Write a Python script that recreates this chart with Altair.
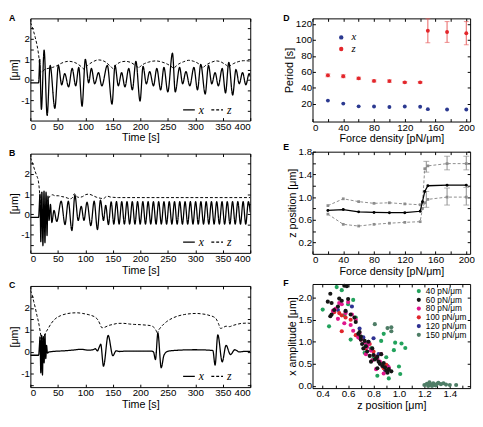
import altair as alt
import pandas as pd

FONT = "Liberation Sans"
SERIF = "Liberation Serif"

# ---------------- Panel A (time series) ----------------
A_x_t = [0, 15, 16, 17, 20, 25, 30.5, 36, 44.5, 51, 57, 62.5, 69.5, 76, 82.5, 88, 94, 100, 106, 111,
         117, 124, 130, 140, 148.5, 154, 160, 166, 172, 179, 185.5, 192, 199.5, 205, 211, 217, 224, 230, 237, 243,
         250, 258.5, 263.5, 271.5, 277, 283, 290, 297.5, 304, 310, 318, 324, 330, 336, 342, 349, 355, 361, 368, 374,
         380, 386, 392, 398, 400]
A_x_v = [-0.15, -0.15, 0.35, 1.0, -1.45, 1.45, -1.75, 0.7, -1.4, 0.7, -0.25, 0.3, -0.35, 0.55, -0.3, 0.6, -1.3, 1.0, -0.15, 0.55,
         -0.2, 0.35, -0.3, 0.7, -1.2, 0.7, -0.3, 0.35, -0.35, 0.55, -0.5, 0.9, -1.05, 0.65, -0.2, 0.4, -0.3, 0.55, -0.5, 0.6,
         -0.6, 1.3, -0.6, 0.6, -0.2, 0.4, -0.3, 0.6, -0.5, 0.75, -0.7, 0.7, -0.2, 0.35, -0.3, 0.55, -0.65, 0.85, -0.75, 0.5,
         -0.2, 0.35, -0.25, 0.3, 0.15]
A_z_t = [0, 3, 6, 9, 12, 14, 15.5, 16.5, 17.5, 18, 22, 23, 26, 32, 40, 48, 56, 64, 70, 76,
         84, 92, 95.5, 97, 98.5, 104, 112, 124, 136, 143, 148, 149.5, 151, 157, 164, 173, 182, 189, 195.5, 197,
         198.5, 205, 215, 228, 241, 250, 258.5, 260.5, 262.5, 270, 279, 288, 297, 305, 312.5, 314, 315.5, 322, 330, 338,
         346, 353, 359, 360.5, 362, 369, 378, 388, 396, 400]
A_z_v = [2.8, 2.6, 2.35, 2.05, 1.7, 1.4, 1.1, 0.8, 0.5, 0.38, 0.38, 0.42, 0.5, 0.55, 0.6, 0.68, 0.8, 0.88, 0.9, 0.88,
         0.8, 0.65, 0.57, 0.52, 0.56, 0.7, 0.85, 0.97, 0.88, 0.72, 0.6, 0.55, 0.6, 0.75, 0.86, 0.9, 0.85, 0.74, 0.61, 0.56,
         0.61, 0.75, 0.86, 0.92, 0.85, 0.75, 0.6, 0.55, 0.6, 0.77, 0.88, 0.95, 0.9, 0.8, 0.62, 0.57, 0.62, 0.76, 0.86, 0.92,
         0.88, 0.77, 0.65, 0.6, 0.65, 0.78, 0.88, 0.93, 0.92, 0.9]

# ---------------- Panel B ----------------
B_x_t = [0, 15, 16, 17.5, 19, 21, 22.8, 24.8, 26.5, 28.5, 30.3, 32, 34, 36.5, 39, 43, 48, 56, 63, 69,
         75.5, 81, 87, 92.5, 97.5, 103, 110, 116, 122, 127.5, 133, 137, 142,
         147.0, 151.8, 156.6, 161.4, 166.2, 171.0, 175.8, 180.6, 185.4, 190.2, 195.0, 199.8, 204.6, 209.4,
         214.2, 219.0, 223.8, 228.6, 233.4, 238.2, 243.0, 247.8, 252.6, 257.4, 262.2, 267.0, 271.8, 276.6,
         281.4, 286.2, 291.0, 295.8, 300.6, 305.4, 310.2, 315.0, 319.8, 324.6, 329.4, 334.2, 339.0, 343.8,
         348.6, 353.4, 358.2, 363.0, 367.8, 372.6, 377.4, 382.2, 387.0, 391.8, 396.6, 400]
B_x_v = [-0.15, -0.15, 0.3, 1.0, -1.35, 1.1, -1.55, 1.15, -1.4, 1.1, -1.05, 0.9, -0.3, 0.5, -0.4, 0.2, -0.35, 0.65, -0.5, 0.65,
         -0.8, 0.95, -0.3, 0.4, -0.3, 0.6, -0.55, 0.65, -0.75, 0.7, -0.3, 0.45, -0.5,
         0.62, -0.48, 0.63, -0.48, 0.63, -0.48, 0.63, -0.48, 0.63, -0.48, 0.63, -0.48, 0.63, -0.48,
         0.63, -0.48, 0.63, -0.48, 0.63, -0.48, 0.63, -0.48, 0.63, -0.48, 0.63, -0.48, 0.63, -0.48,
         0.63, -0.48, 0.63, -0.48, 0.63, -0.48, 0.63, -0.48, 0.63, -0.48, 0.63, -0.48, 0.63, -0.48,
         0.63, -0.48, 0.63, -0.48, 0.63, -0.48, 0.63, -0.48, 0.63, -0.48, 0.63, 0.1]
B_z_t = [0, 3, 6, 9, 12, 14, 15.5, 17, 18.5, 20, 23, 26, 28, 31, 35, 40, 45, 51, 57, 63,
         68, 73, 77, 80, 83, 88, 95, 101, 106, 112, 120, 127, 133, 137, 140, 145, 152, 160, 200, 300, 400]
B_z_v = [2.8, 2.6, 2.35, 2.1, 1.88, 1.72, 1.45, 1.0, 0.5, 0.35, 0.38, 0.42, 0.52, 0.7, 0.88, 0.97, 0.92, 0.92, 0.88, 0.85,
         0.8, 0.77, 0.85, 1.02, 0.92, 0.84, 0.88, 0.98, 1.0, 0.95, 0.85, 0.8, 0.78, 0.86, 0.9, 0.86, 0.84, 0.83, 0.83, 0.83, 0.83]

# ---------------- Panel C ----------------
C_x_t = [0, 15, 16.5, 17.5, 19, 20.5, 22, 23.5, 25, 26.5, 28, 29.5, 31, 34, 45, 60, 75, 92, 105, 114,
         118, 122, 125, 128, 133, 141.5, 150, 156, 162, 175, 200, 220, 224, 227.5, 232, 238, 243, 250, 270, 300,
         325, 332, 336, 341, 349, 356, 364, 372, 380, 390, 400]
C_x_v = [-0.15, -0.15, 0.3, 0.68, -0.95, 0.75, -1.05, 0.7, -0.5, 0.8, -0.3, 0.3, -0.05, 0.0, 0.03, 0.05, 0.08, 0.12, 0.08, 0.1,
         0.15, 0.05, 0.2, 0.35, -0.65, 0.75, -0.17, 0.05, 0.02, 0.04, 0.04, 0.04, 0.0, -0.35, 0.85, -0.72, -0.15, 0.03, 0.08, 0.1,
         0.08, 0.06, -0.6, 0.78, -0.45, 0.3, -0.12, 0.1, 0.0, 0.03, 0.02]
C_z_t = [0, 3, 6, 9, 12, 14, 16, 18, 20, 22, 25, 28, 32, 38, 45, 55, 65, 75, 85, 95,
         105, 112, 118, 123, 127, 130, 135, 142, 150, 160, 170, 180, 190, 200, 210, 218, 223, 227, 229.5, 231,
         232.5, 235, 240, 248, 258, 268, 280, 292, 302, 312, 320, 327, 333, 338, 342, 346, 350, 356, 362, 368,
         375, 385, 395, 400]
C_z_v = [2.8, 2.6, 2.3, 2.0, 1.65, 1.45, 1.2, 0.9, 0.65, 0.6, 0.7, 0.88, 1.05, 1.3, 1.5, 1.65, 1.73, 1.77, 1.78, 1.75,
         1.7, 1.65, 1.58, 1.45, 1.25, 1.1, 1.12, 1.2, 1.25, 1.3, 1.3, 1.27, 1.25, 1.24, 1.22, 1.2, 1.15, 1.05, 0.92, 0.8,
         0.95, 1.05, 1.2, 1.38, 1.53, 1.63, 1.7, 1.74, 1.75, 1.73, 1.7, 1.65, 1.6, 1.5, 1.3, 1.07, 1.1, 1.17, 1.15, 1.2,
         1.25, 1.3, 1.31, 1.3]

T_TICKS = [0, 50, 100, 150, 200, 250, 300, 350, 400]
UM_TICKS = [-1.5, -1, -0.5, 0, 0.5, 1, 1.5, 2, 2.5]

# ---------------- Panel D ----------------
D_F = [20, 40, 60, 80, 100, 120, 140, 150, 175, 200]
D_x = [24.2, 20.4, 17.0, 16.8, 16.2, 16.8, 16.5, 13.5, 13.0, 13.0]
D_z = [55.8, 54.6, 52.0, 48.8, 48.6, 47.0, 47.0, 111.5, 110.0, 108.5]
D_z_err = [1.8, 1.8, 1.5, 1.2, 1.5, 1.0, 1.0, 15.0, 13.0, 14.5]

# ---------------- Panel E ----------------
E_F = [20, 40, 60, 80, 100, 120, 140, 143, 146, 150, 175, 200]
E_mean = [0.765, 0.78, 0.74, 0.73, 0.725, 0.725, 0.75, 0.92, 1.1, 1.2, 1.21, 1.21]
E_hi = [0.85, 0.97, 0.92, 0.89, 0.9, 0.88, 0.865, 0.9, 1.5, 1.55, 1.59, 1.59]
E_lo = [0.70, 0.52, 0.49, 0.52, 0.54, 0.555, 0.567, 0.8, 0.9, 0.96, 1.0, 1.0]
E_err_F = [148, 175, 200, 148, 175, 200]
E_err_lo = [1.44, 1.48, 1.48, 0.82, 0.86, 0.86]
E_err_hi = [1.63, 1.72, 1.72, 1.10, 1.16, 1.17]

F_TICKS = [0, 20, 40, 60, 80, 100, 120, 140, 160, 180, 200]

# ---------------- Panel F ----------------
F_LABELS = ["40 pN/μm", "60 pN/μm", "80 pN/μm", "100 pN/μm", "120 pN/μm", "150 pN/μm"]
F_COLORS = ["#22a25c", "#151515", "#e0168c", "#e0262b", "#2e3192", "#4e7d66"]
F40_x = [0.51, 0.55, 0.40, 0.45, 0.60, 0.66, 0.62, 0.70, 0.74, 0.78, 0.86, 0.88, 0.97, 1.02, 1.05, 0.96, 0.90, 1.00, 1.01, 0.83,
         0.92, 0.88, 0.73, 0.80, 0.64, 0.57]
F40_y = [2.24, 2.17, 1.73, 1.35, 1.85, 1.55, 1.05, 1.12, 0.95, 0.85, 1.02, 1.18, 0.98, 0.96, 0.86, 0.81, 0.65, 0.44, 0.27, 0.23,
         0.17, 0.45, 0.75, 0.62, 1.95, 1.60]
F60_x = [0.57, 0.59, 0.46, 0.44, 0.47, 0.53, 0.55, 0.60, 0.49, 0.47, 0.46, 0.62, 0.66, 0.68, 0.70, 0.70, 0.71, 0.74, 0.76, 0.79,
         0.80, 0.82, 0.84, 0.85, 0.87, 0.89, 0.90, 0.92, 0.94, 0.86, 0.81, 0.77, 0.72, 0.65, 0.58, 0.52, 0.78, 0.83, 0.88,
         0.69, 0.73, 0.75, 0.83, 0.91]
F60_y = [2.27, 2.26, 2.09, 1.91, 1.88, 1.98, 1.93, 1.97, 1.72, 1.62, 1.58, 1.62, 1.45, 1.18, 1.12, 1.05, 0.95, 0.90, 1.00, 0.85,
         0.70, 0.62, 0.55, 0.50, 0.45, 0.42, 0.35, 0.38, 0.33, 0.72, 0.60, 0.68, 0.85, 1.55, 1.70, 1.80, 0.55, 0.40, 0.52,
         1.22, 1.02, 0.78, 0.66, 0.30]
F80_x = [0.48, 0.50, 0.53, 0.55, 0.60, 0.58, 0.63, 0.66, 0.52, 0.57, 0.62, 0.69, 0.70, 0.73, 0.75, 0.78, 0.80, 0.83, 0.85, 0.87,
         0.90, 0.88, 0.82, 0.79, 0.74, 0.68, 0.64, 0.76, 0.86, 0.92]
F80_y = [1.70, 1.75, 1.88, 1.85, 1.90, 1.65, 1.62, 1.50, 1.52, 1.42, 1.38, 1.20, 1.05, 0.98, 0.88, 0.80, 0.70, 0.62, 0.55, 0.45,
         0.35, 0.28, 0.38, 0.58, 0.72, 1.10, 1.25, 0.95, 0.72, 0.42]
F100_x = [0.49, 0.53, 0.55, 0.58, 0.55, 0.62, 0.70, 0.74, 0.77, 0.82, 0.85, 0.88, 0.90, 0.80, 0.66]
F100_y = [1.67, 1.65, 1.60, 1.55, 1.24, 1.50, 1.05, 0.85, 0.95, 0.66, 0.52, 0.40, 0.48, 0.78, 1.15]
F120_x = [0.52, 0.58, 0.63, 0.72, 0.76, 0.80, 0.84, 0.89, 0.91, 0.69]
F120_y = [1.72, 1.68, 1.80, 1.10, 1.00, 1.08, 0.72, 0.36, 0.45, 1.30]
F150_x = [0.81, 0.91, 0.94, 0.94, 1.20, 1.22, 1.24, 1.25, 1.27, 1.28, 1.30, 1.31, 1.33, 1.35, 1.37, 1.40, 1.45, 1.23, 1.26, 1.29]
F150_y = [1.40, 1.31, 1.33, 1.24, 0.02, 0.05, 0.08, 0.03, 0.06, 0.02, 0.05, 0.07, 0.04, 0.06, 0.03, 0.02, 0.02, 0.00, 0.00, 0.01]

BLUE = "#2b3990"
RED = "#e3262b"
RED_L = "#e86060"
GRAY = "#8c8c8c"

W1 = 226
W2 = 162
HA, HB, HC = 105, 102, 104
HD, HE, HF = 106, 105, 107


def ax(orient=None, **kw):
    base = dict(offset=-3, tickSize=3, domain=False, grid=False, labelPadding=1,
                tickColor="black", labelColor="black", titleColor="black")
    base.update(kw)
    if orient:
        base["orient"] = orient
    return alt.Axis(**base)


def letter(t, dx=-22):
    return alt.TitleParams(t, anchor="start", frame="group", dx=dx, offset=-5,
                           fontSize=9, fontWeight="bold", font=FONT, color="black")


def frame(df, xf, yf, xs, ys, xv, yv):
    return alt.Chart(df).mark_point(opacity=0, size=1).encode(
        x=alt.X(xf, type="quantitative", scale=xs, axis=ax("top", values=xv, labels=False, title=None)),
        y=alt.Y(yf, type="quantitative", scale=ys, axis=ax("right", values=yv, labels=False, title=None)),
    )


def boxed(*layers):
    return alt.layer(*layers).resolve_axis(x="independent", y="independent")


UM_EXPR = "datum.value % 1 == 0 ? (datum.value < 0 ? '-' + abs(datum.value) : '' + datum.value) : ''"


def time_panel(name, xt, xv, zt, zv, ydom, h):
    df = pd.concat([pd.DataFrame({"t": xt, "v": xv, "s": "x"}),
                    pd.DataFrame({"t": zt, "v": zv, "s": "z"})], ignore_index=True)
    xs = alt.Scale(domain=[0, 400], nice=False, zero=False)
    ys = alt.Scale(domain=ydom, nice=False, zero=False)
    yv = [v for v in UM_TICKS if ydom[0] <= v <= ydom[1]]
    lines = alt.Chart(df).mark_line(interpolate="monotone", color="black", clip=True).encode(
        x=alt.X("t:Q", scale=xs, axis=ax(values=T_TICKS, title="Time [s]", titlePadding=1)),
        y=alt.Y("v:Q", scale=ys, axis=ax(values=yv, title="[μm]", labelExpr=UM_EXPR, titlePadding=1)),
        strokeDash=alt.StrokeDash("s:N", scale=alt.Scale(domain=["x", "z"], range=[[1, 0], [3, 2]]),
                                  legend=alt.Legend(title=None, orient="none", legendX=156, legendY=h - 18,
                                                    direction="horizontal", symbolType="stroke", symbolSize=144,
                                                    symbolStrokeWidth=1.2, symbolStrokeColor="black",
                                                    labelFont=SERIF, labelFontStyle="italic", labelFontSize=12,
                                                    labelColor="black", labelOffset=3, columnPadding=4, padding=0)),
        strokeWidth=alt.StrokeWidth("s:N", scale=alt.Scale(domain=["x", "z"], range=[1.3, 1.0]), legend=None),
    )
    return boxed(lines, frame(df, "t", "v", xs, ys, T_TICKS, yv)).properties(
        width=W1, height=h, title=letter(name))


A = time_panel("A", A_x_t, A_x_v, A_z_t, A_z_v, [-2, 3], HA)
B = time_panel("B", B_x_t, B_x_v, B_z_t, B_z_v, [-1.9, 3], HB)
C = time_panel("C", C_x_t, C_x_v, C_z_t, C_z_v, [-1.6, 3], HC)

FORCE_EXPR = "datum.value % 40 == 0 ? datum.label : ''"
FORCE_TITLE = "Force density [pN/μm]"

# ---- D ----
dpts = pd.concat([pd.DataFrame({"F": D_F, "val": D_x, "s": "x"}),
                  pd.DataFrame({"F": D_F, "val": D_z, "s": "z"})], ignore_index=True)
derr = pd.DataFrame({"F": D_F, "lo": [a - b for a, b in zip(D_z, D_z_err)],
                     "hi": [a + b for a, b in zip(D_z, D_z_err)]})
xsD = alt.Scale(domain=[0, 205], nice=False, zero=False)
ysD = alt.Scale(domain=[-2, 127], nice=False, zero=False)
D_YT = [20, 40, 60, 80, 100, 120]
xD = ax(values=F_TICKS, labelExpr=FORCE_EXPR, title=FORCE_TITLE, titlePadding=1)
yD = ax(values=D_YT, title="Period [s]", titlePadding=1)
d_err = alt.Chart(derr).mark_errorbar(ticks={"size": 5, "color": RED_L}, color=RED_L, thickness=1).encode(
    x=alt.X("F:Q", scale=xsD, axis=xD), y=alt.Y("lo:Q", scale=ysD, axis=yD), y2="hi:Q")
d_pts = alt.Chart(dpts).mark_circle(size=16, opacity=1).encode(
    x=alt.X("F:Q", scale=xsD, axis=xD), y=alt.Y("val:Q", scale=ysD, axis=yD),
    color=alt.Color("s:N", scale=alt.Scale(domain=["x", "z"], range=[BLUE, RED]),
                    legend=alt.Legend(title=None, orient="none", legendX=24, legendY=14, symbolType="circle",
                                      symbolSize=20, labelFont=SERIF, labelFontStyle="italic", labelFontSize=11,
                                      labelColor="black", labelOffset=5, rowPadding=0, padding=0)))
D = boxed(alt.layer(d_err, d_pts), frame(dpts, "F", "val", xsD, ysD, F_TICKS, D_YT)).properties(
    width=W2, height=HD, title=letter("D", -30))

# ---- E ----
emean = pd.DataFrame({"F": E_F, "val": E_mean})
eband = pd.concat([pd.DataFrame({"F": E_F, "val": E_hi, "s": "hi"}),
                   pd.DataFrame({"F": E_F, "val": E_lo, "s": "lo"})], ignore_index=True)
eerr = pd.DataFrame({"F": E_err_F, "lo": E_err_lo, "hi": E_err_hi})
ysE = alt.Scale(domain=[0, 1.8], nice=False, zero=False)
E_YT = [0.2, 0.4, 0.6, 0.8, 1.0, 1.2, 1.4, 1.6, 1.8]
xE = ax(values=F_TICKS, labelExpr=FORCE_EXPR, title=FORCE_TITLE, titlePadding=1)
yE = ax(values=E_YT, title="z position [μm]", titlePadding=1,
        labelExpr="(round(datum.value*10) % 4 == 2) ? format(datum.value, '.1f') : ''")
e_err = alt.Chart(eerr).mark_errorbar(ticks={"size": 6, "color": GRAY}, color=GRAY, thickness=1).encode(
    x=alt.X("F:Q", scale=xsD, axis=xE), y=alt.Y("lo:Q", scale=ysE, axis=yE), y2="hi:Q")
e_gray = alt.Chart(eband).mark_line(color=GRAY, strokeWidth=1, strokeDash=[3, 2],
                                    point=alt.OverlayMarkDef(shape="square", filled=True, size=8, color=GRAY)).encode(
    x=alt.X("F:Q", scale=xsD, axis=xE), y=alt.Y("val:Q", scale=ysE, axis=yE), detail="s:N")
e_mean = alt.Chart(emean).mark_line(color="black", strokeWidth=1.3,
                                    point=alt.OverlayMarkDef(filled=True, size=9, color="black")).encode(
    x=alt.X("F:Q", scale=xsD, axis=xE), y=alt.Y("val:Q", scale=ysE, axis=yE))
E = boxed(alt.layer(e_err, e_gray, e_mean), frame(emean, "F", "val", xsD, ysE, F_TICKS, E_YT)).properties(
    width=W2, height=HE, title=letter("E", -30))

# ---- F ----
fdf = pd.concat([
    pd.DataFrame({"zp": F40_x, "amp": F40_y, "g": F_LABELS[0]}),
    pd.DataFrame({"zp": F150_x, "amp": F150_y, "g": F_LABELS[5]}),
    pd.DataFrame({"zp": F120_x, "amp": F120_y, "g": F_LABELS[4]}),
    pd.DataFrame({"zp": F100_x, "amp": F100_y, "g": F_LABELS[3]}),
    pd.DataFrame({"zp": F80_x, "amp": F80_y, "g": F_LABELS[2]}),
    pd.DataFrame({"zp": F60_x, "amp": F60_y, "g": F_LABELS[1]}),
], ignore_index=True)
xsF = alt.Scale(domain=[0.32, 1.56], nice=False, zero=False)
ysF = alt.Scale(domain=[-0.05, 2.31], nice=False, zero=False)
F_XT = [0.4, 0.5, 0.6, 0.7, 0.8, 0.9, 1.0, 1.1, 1.2, 1.3, 1.4, 1.5]
F_YT = [0.0, 0.5, 1.0, 1.5, 2.0]
f_pts = alt.Chart(fdf).mark_circle(size=18, opacity=1).encode(
    x=alt.X("zp:Q", scale=xsF, axis=ax(values=F_XT, title="z position [μm]", titlePadding=1,
                                       labelExpr="(round(datum.value*10) % 2 == 0) ? format(datum.value, '.1f') : ''")),
    y=alt.Y("amp:Q", scale=ysF, axis=ax(values=F_YT, format=".1f", title="x amplitude [μm]", titlePadding=1)),
    color=alt.Color("g:N", scale=alt.Scale(domain=F_LABELS, range=F_COLORS),
                    legend=alt.Legend(title=None, orient="none", legendX=105, legendY=3, symbolType="circle",
                                      symbolSize=18, labelFont=FONT, labelFontSize=8.5, labelColor="black",
                                      labelOffset=3, rowPadding=-2, padding=0)))
Fp = boxed(f_pts, frame(fdf, "zp", "amp", xsF, ysF, F_XT, F_YT)).properties(
    width=W2, height=HF, title=letter("F", -30))

left = alt.vconcat(A, B, C, spacing=34, bounds="flush").resolve_scale(strokeDash="independent", color="independent")
right = alt.vconcat(D, E, Fp, spacing=31, bounds="flush").resolve_scale(strokeDash="independent", color="independent")

chart = alt.hconcat(left, right, spacing=32).resolve_scale(
    strokeDash="independent", color="independent"
).properties(padding=0).configure_axis(
    labelFont=FONT, titleFont=FONT, labelFontSize=10, titleFontSize=11, titleFontWeight="normal"
).configure_view(stroke="black", strokeWidth=1)

chart.save("out.html", embed_options={"renderer": "svg", "actions": False})
